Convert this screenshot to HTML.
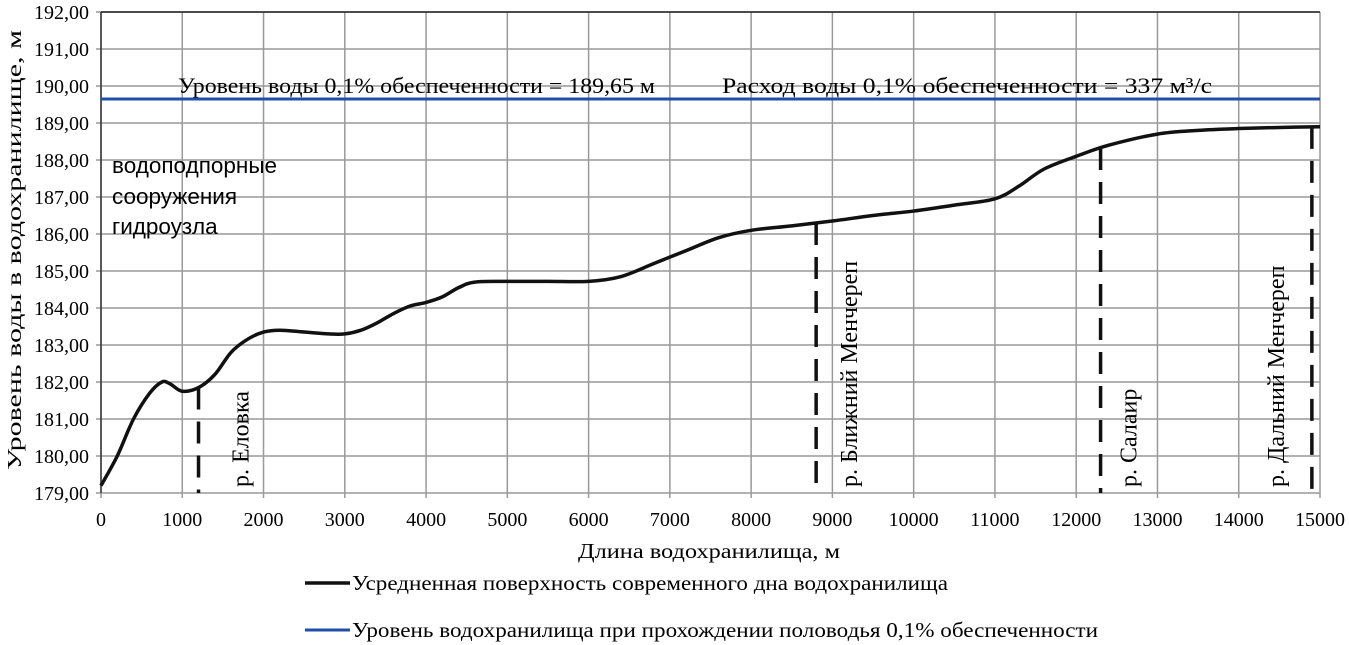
<!DOCTYPE html>
<html><head><meta charset="utf-8"><style>
html,body{margin:0;padding:0;background:#fff;}
svg{display:block;font-family:"Liberation Serif",serif;}
</style></head><body>
<svg id="c" width="1349" height="645"></svg>
<script>
const xTicks=[0,1000,2000,3000,4000,5000,6000,7000,8000,9000,10000,11000,12000,13000,14000,15000];
const yTicks=[179,180,181,182,183,184,185,186,187,188,189,190,191,192];
const bedX=[0,200,400,600,750,850,1000,1200,1400,1600,1800,2000,2200,2500,2800,3000,3200,3400,3600,3800,4000,4200,4400,4600,5000,5500,6000,6400,6800,7200,7600,8000,8500,9000,9500,10000,10500,11000,11300,11600,12000,12400,13000,13500,14000,14500,15000];
const bedY=[179.2,180.0,181.0,181.7,182.0,181.95,181.75,181.85,182.2,182.8,183.15,183.35,183.4,183.35,183.3,183.3,183.4,183.6,183.85,184.05,184.15,184.3,184.55,184.7,184.72,184.72,184.72,184.85,185.2,185.55,185.9,186.1,186.22,186.35,186.5,186.62,186.78,186.95,187.3,187.75,188.1,188.4,188.7,188.8,188.85,188.88,188.9];
const floodLevel=189.65;
const tribX=[1200,8800,12300,14900];
const tribNames=["р. Еловка","р. Ближний Менчереп","р. Салаир","р. Дальний Менчереп"];
const L=101,R=1320,T=12,B=493;
const sx=v=>L+(v-0)/(15000)*(R-L);
const sy=v=>B-(v-179)/13*(B-T);
const svg=document.getElementById('c');
const NS='http://www.w3.org/2000/svg';
function mk(tag,attrs,parent){const e=document.createElementNS(NS,tag);for(const k in attrs)e.setAttribute(k,attrs[k]);(parent||svg).appendChild(e);return e;}
xTicks.forEach(v=>{const l=mk('line',{x1:sx(v),x2:sx(v),y1:T,y2:B+5,stroke:'#999','stroke-width':1.5});


const t=mk('text',{x:sx(v),y:526,'text-anchor':'middle','font-size':20});t.textContent=v;

});
yTicks.forEach(v=>{const l=mk('line',{x1:L-5,x2:R,y1:sy(v),y2:sy(v),stroke:'#999','stroke-width':1.5});


const t=mk('text',{x:89,y:sy(v)+7,'text-anchor':'end','font-size':20});t.textContent=v.toFixed(2).replace('.',',');

});
mk('line',{x1:L,x2:R,y1:T,y2:T,stroke:'#222','stroke-width':1.5});
const ax=mk('line',{x1:L,x2:L,y1:T,y2:B,stroke:'#333','stroke-width':1.5});


const fl=mk('line',{x1:L,x2:R,y1:sy(floodLevel),y2:sy(floodLevel),stroke:'#1f4fa8','stroke-width':3});


const pts=bedX.map((x,i)=>[sx(x),sy(bedY[i])]);
let d='M'+pts[0][0]+','+pts[0][1];
for(let i=0;i<pts.length-1;i++){const p0=pts[Math.max(0,i-1)],p1=pts[i],p2=pts[i+1],p3=pts[Math.min(pts.length-1,i+2)];
d+=' C'+(p1[0]+(p2[0]-p0[0])/6)+','+(p1[1]+(p2[1]-p0[1])/6)+' '+(p2[0]-(p3[0]-p1[0])/6)+','+(p2[1]-(p3[1]-p1[1])/6)+' '+p2[0]+','+p2[1];}
const bed=mk('path',{d:d,fill:'none',stroke:'#111','stroke-width':3.5});


function interp(x){for(let i=0;i<bedX.length-1;i++){if(x>=bedX[i]&&x<=bedX[i+1]){const f=(x-bedX[i])/(bedX[i+1]-bedX[i]);return bedY[i]+f*(bedY[i+1]-bedY[i]);}}return bedY[bedY.length-1];}
const labelOff=[50,41,36,-28];
tribX.forEach((x,i)=>{const l=mk('line',{x1:sx(x),x2:sx(x),y1:sy(interp(x)),y2:B,stroke:'#111','stroke-width':3.5,'stroke-dasharray':'22,12'});


const tx=sx(x)+labelOff[i],ty=487;
const t=mk('text',{x:tx,y:ty,'font-size':24,transform:`rotate(-90 ${tx} ${ty})`});t.textContent=tribNames[i];

});
</script>
<svg style="position:absolute;left:0;top:0" width="1349" height="645">
<text x="178" y="93" font-size="22" textLength="477" lengthAdjust="spacingAndGlyphs" font-family="Liberation Serif,serif">Уровень воды 0,1% обеспеченности = 189,65 м</text>
<text x="722" y="93" font-size="22" textLength="490" lengthAdjust="spacingAndGlyphs" font-family="Liberation Serif,serif">Расход воды 0,1% обеспеченности = 337 м³/с</text>
<g font-size="22.5" font-family="Liberation Sans,sans-serif">
<text x="112" y="173">водоподпорные</text><text x="112" y="204">сооружения</text><text x="112" y="234">гидроузла</text></g>
<text x="0" y="0" font-size="20" textLength="440" lengthAdjust="spacingAndGlyphs" font-family="Liberation Serif,serif" text-anchor="middle" transform="translate(21 250) rotate(-90)">Уровень воды в водохранилище, м</text>
<text x="709" y="558" font-size="21" textLength="262" lengthAdjust="spacingAndGlyphs" font-family="Liberation Serif,serif" text-anchor="middle">Длина водохранилища, м</text>
<line x1="305" x2="350" y1="583" y2="583" stroke="#111" stroke-width="3.5"/>
<text x="352" y="590" font-size="21" textLength="596" lengthAdjust="spacingAndGlyphs" font-family="Liberation Serif,serif">Усредненная поверхность современного дна водохранилища</text>
<line x1="305" x2="350" y1="630" y2="630" stroke="#1f4fa8" stroke-width="3"/>
<text x="352" y="637" font-size="21" textLength="746" lengthAdjust="spacingAndGlyphs" font-family="Liberation Serif,serif">Уровень водохранилища при прохождении половодья 0,1% обеспеченности</text>
</svg>
</body></html>
